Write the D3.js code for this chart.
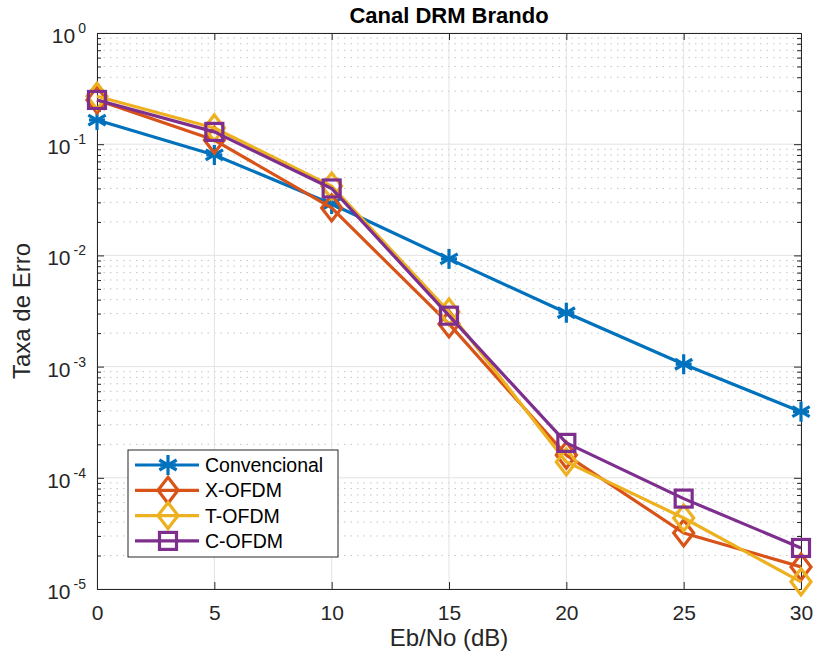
<!DOCTYPE html>
<html>
<head>
<meta charset="utf-8">
<script src="https://cdn.jsdelivr.net/npm/d3@7"></script>
<style>
  body { margin: 0; background: #fff; }
  svg { font-family: "Liberation Sans", Arial, sans-serif; }
</style>
</head>
<body>
<div id="chart"></div>
<script>
// Data
const ebno = [0, 5, 10, 15, 20, 25, 30];
const convencional = [0.165, 0.080, 0.029, 0.0093, 0.00305, 0.00105, 0.000393];
const xOfdm = [0.25, 0.109, 0.0267, 0.00242, 0.00016, 3.19e-5, 1.58e-5];
const tOfdm = [0.27, 0.14, 0.042, 0.0031, 0.000139, 4.35e-5, 1.16e-5];
const cOfdm = [0.25, 0.129, 0.040, 0.00287, 0.000206, 6.5e-5, 2.34e-5];
const seriesNames = ["Convencional", "X-OFDM", "T-OFDM", "C-OFDM"];
const seriesColors = ["#0072BD", "#D95319", "#EDB120", "#7E2F8E"];
const seriesMarkers = ["star", "diamond", "diamond", "square"];
const xTicks = [0, 5, 10, 15, 20, 25, 30];
const yExponents = [0, -1, -2, -3, -4, -5];

function drawChart() {
  const W = 815, H = 661;
  const margin = { top: 33, right: 14, bottom: 72, left: 97 };
  const width = W - margin.left - margin.right;
  const height = H - margin.top - margin.bottom;

  const root = d3.select("#chart").append("svg")
    .attr("width", W).attr("height", H);
  const svg = root.append("g")
    .attr("transform", `translate(${margin.left},${margin.top})`);

  const x = d3.scaleLinear().domain([0, 30]).range([0, width]);
  const y = d3.scaleLog().domain([1e-5, 1]).range([height, 0]);

  // minor values (2..9 per decade)
  const minors = [];
  for (let e = -5; e < 0; e++) for (let k = 2; k <= 9; k++) minors.push(k * Math.pow(10, e));

  // Grid
  const grid = svg.append("g");
  grid.selectAll(".minor").data(minors).enter().append("line")
    .attr("x1", 0).attr("x2", width)
    .attr("y1", d => y(d)).attr("y2", d => y(d))
    .attr("stroke", "#c4c4c4").attr("stroke-width", 1)
    .attr("stroke-dasharray", "1.5,5");
  grid.selectAll(".gx").data(xTicks).enter().append("line")
    .attr("x1", d => x(d)).attr("x2", d => x(d))
    .attr("y1", 0).attr("y2", height)
    .attr("stroke", "#e3e3e3").attr("stroke-width", 1);
  grid.selectAll(".gy").data(yExponents).enter().append("line")
    .attr("x1", 0).attr("x2", width)
    .attr("y1", d => y(Math.pow(10, d))).attr("y2", d => y(Math.pow(10, d)))
    .attr("stroke", "#e3e3e3").attr("stroke-width", 1);

  // Axes (box with inward ticks)
  const axisColor = "#262626";
  svg.append("g").attr("transform", `translate(0,${height})`)
    .call(d3.axisBottom(x).tickValues(xTicks).tickSizeInner(-7).tickSizeOuter(0).tickPadding(0))
    .call(g => g.select(".domain").attr("stroke", axisColor))
    .call(g => g.selectAll(".tick line").attr("stroke", axisColor))
    .call(g => g.selectAll("text").attr("dy", null).attr("y", 31)
      .attr("font-size", 21).attr("fill", axisColor)
      .attr("font-family", "Liberation Sans, Arial, sans-serif"));
  svg.append("g")
    .call(d3.axisTop(x).tickValues(xTicks).tickSizeInner(-7).tickSizeOuter(0).tickFormat(""))
    .call(g => g.select(".domain").attr("stroke", axisColor))
    .call(g => g.selectAll(".tick line").attr("stroke", axisColor));

  const yMajor = yExponents.map(e => Math.pow(10, e));
  [0, width].forEach((xp, i) => {
    const ax = i === 0 ? d3.axisLeft(y) : d3.axisRight(y);
    svg.append("g").attr("transform", `translate(${xp},0)`)
      .call(ax.tickValues(yMajor).tickSizeInner(-7).tickSizeOuter(0).tickFormat(""))
      .call(g => g.select(".domain").attr("stroke", axisColor))
      .call(g => g.selectAll(".tick line").attr("stroke", axisColor));
    const ax2 = i === 0 ? d3.axisLeft(y) : d3.axisRight(y);
    svg.append("g").attr("transform", `translate(${xp},0)`)
      .call(ax2.tickValues(minors).tickSizeInner(-4).tickSizeOuter(0).tickFormat(""))
      .call(g => g.select(".domain").remove())
      .call(g => g.selectAll(".tick line").attr("stroke", axisColor));
  });

  // Y tick labels 10^n
  const yl = svg.append("g").selectAll("text").data(yExponents).enter().append("text")
    .attr("x", -11).attr("y", d => y(Math.pow(10, d)) + 10)
    .attr("text-anchor", "end").attr("fill", axisColor).attr("font-size", 21);
  yl.append("tspan").text("10");
  yl.append("tspan").attr("dy", -10).attr("dx", 3).attr("font-size", 14).text(d => d === 0 ? "0" : d);

  // Title and labels
  root.append("text").attr("x", margin.left + width / 2).attr("y", 23)
    .attr("text-anchor", "middle").attr("font-weight", "bold").attr("font-size", 22)
    .attr("fill", "#000").text("Canal DRM Brando");
  root.append("text").attr("x", margin.left + width / 2).attr("y", 646)
    .attr("text-anchor", "middle").attr("font-size", 24).attr("fill", axisColor)
    .text("Eb/No (dB)");
  root.append("text")
    .attr("transform", `translate(30,${margin.top + height / 2}) rotate(-90)`)
    .attr("text-anchor", "middle").attr("font-size", 24).attr("fill", axisColor)
    .text("Taxa de Erro");

  // Marker drawing
  function drawMarker(g, type, color) {
    if (type === "star") {
      const r = 10;
      [0, 60, 120].forEach(a => {
        const rad = a * Math.PI / 180;
        g.append("line")
          .attr("x1", -r * Math.sin(rad)).attr("y1", -r * Math.cos(rad))
          .attr("x2", r * Math.sin(rad)).attr("y2", r * Math.cos(rad))
          .attr("stroke", color).attr("stroke-width", 3.2);
      });
      g.append("line").attr("x1", -r * 0.8).attr("x2", r * 0.8).attr("y1", 0).attr("y2", 0)
        .attr("stroke", color).attr("stroke-width", 3.2);
    } else if (type === "diamond") {
      g.append("path").attr("d", "M0,-13L10,0L0,13L-10,0Z")
        .attr("fill", "none").attr("stroke", color).attr("stroke-width", 3.2);
    } else {
      g.append("rect").attr("x", -8.5).attr("y", -8.5).attr("width", 17).attr("height", 17)
        .attr("fill", "none").attr("stroke", color).attr("stroke-width", 3.2);
    }
  }

  const allSeries = [convencional, xOfdm, tOfdm, cOfdm];
  const line = d3.line().x((d, i) => x(ebno[i])).y(d => y(d));

  allSeries.forEach((vals, s) => {
    svg.append("path").datum(vals)
      .attr("d", line).attr("fill", "none")
      .attr("stroke", seriesColors[s]).attr("stroke-width", 3.2)
      .attr("stroke-linejoin", "round");
    vals.forEach((v, i) => {
      const g = svg.append("g").attr("transform", `translate(${x(ebno[i])},${y(v)})`);
      drawMarker(g, seriesMarkers[s], seriesColors[s]);
    });
  });

  // Legend
  const lg = root.append("g").attr("transform", "translate(128,450)");
  lg.append("rect").attr("width", 210).attr("height", 107)
    .attr("fill", "#fff").attr("stroke", axisColor).attr("stroke-width", 1);
  seriesNames.forEach((name, i) => {
    const row = lg.append("g").attr("transform", `translate(0,${15 + i * 25.3})`);
    row.append("line").attr("x1", 7).attr("x2", 71).attr("y1", 0).attr("y2", 0)
      .attr("stroke", seriesColors[i]).attr("stroke-width", 3.2);
    drawMarker(row.append("g").attr("transform", "translate(40,0)"), seriesMarkers[i], seriesColors[i]);
    row.append("text").attr("x", 77).attr("y", 7).attr("font-size", 19.5)
      .attr("fill", "#000").text(name);
  });
}

document.addEventListener("DOMContentLoaded", drawChart);
</script>
</body>
</html>
